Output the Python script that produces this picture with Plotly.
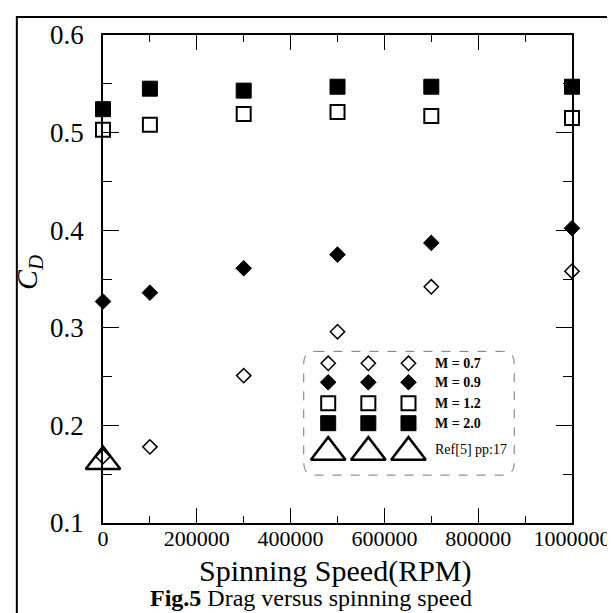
import plotly.graph_objects as go

# ---- data ----
rpm = [0, 100000, 300000, 500000, 700000, 1000000]
cd_m07 = [0.168, 0.178, 0.251, 0.296, 0.342, 0.358]
cd_m09 = [0.327, 0.336, 0.361, 0.375, 0.387, 0.402]
cd_m12 = [0.503, 0.508, 0.519, 0.521, 0.517, 0.515]
cd_m20 = [0.524, 0.545, 0.543, 0.547, 0.547, 0.547]
ref_rpm = [0]
ref_cd = [0.163]

x_tickvals = [0, 200000, 400000, 600000, 800000, 1000000]
x_ticktext = ["0", "200000", "400000", "600000", "800000", "1000000"]
y_tickvals = [0.1, 0.2, 0.3, 0.4, 0.5, 0.6]
y_ticktext = ["0.1", "0.2", "0.3", "0.4", "0.5", "0.6"]

legend_labels = ["<b>M = 0.7</b>", "<b>M = 0.9</b>", "<b>M = 1.2</b>", "<b>M = 2.0</b>", "Ref[5] pp:17"]

FONT = "Liberation Serif"
W, H = 615, 613
L, R, T, B = 95, 41, 26, 98

styles = [
    dict(symbol="diamond-open", size=11, color="black", line=dict(width=1.5, color="black")),
    dict(symbol="diamond", size=12, color="black", line=dict(width=1, color="black")),
    dict(symbol="square-open", size=14, color="black", line=dict(width=2, color="black")),
    dict(symbol="square", size=15, color="black", line=dict(width=1, color="black")),
    dict(symbol="triangle-up-open", size=30, color="black", line=dict(width=2.5, color="black")),
]


def px(xp):
    return (xp - L) / (W - L - R)


def py(yp):
    return (H - B - yp) / (H - T - B)


fig = go.Figure()
series = [(rpm, cd_m07), (rpm, cd_m09), (rpm, cd_m12), (rpm, cd_m20), (ref_rpm, ref_cd)]
for (xs, ys), st, name in zip(series, styles, legend_labels):
    fig.add_trace(go.Scatter(x=xs, y=ys, mode="markers", marker=st, name=name,
                             showlegend=False, cliponaxis=False))

# ---- custom legend (three symbols per row), drawn in pixel space on overlay axes ----
leg_cols = [325, 366, 407]
leg_rows = [355, 374, 395, 415, 444]
leg_text_x = 432
for i, st in enumerate(styles):
    fig.add_trace(go.Scatter(x=leg_cols, y=[leg_rows[i]] * 3, mode="markers", marker=st,
                             xaxis="x2", yaxis="y2", showlegend=False, cliponaxis=False,
                             hoverinfo="skip"))
    fig.add_annotation(x=px(leg_text_x), y=py(leg_rows[i] - (3 if i == 4 else 0)),
                       xref="paper", yref="paper",
                       text=legend_labels[i], showarrow=False, xanchor="left", yanchor="middle",
                       font=dict(family=FONT, size=14, color="black"))

# rounded dashed legend box
bx0, bx1, by0, by1, rr = 300, 515, 343, 467, 12
box_path = (f"M {bx0+rr},{by0} L {bx1-rr},{by0} Q {bx1},{by0} {bx1},{by0+rr} "
            f"L {bx1},{by1-rr} Q {bx1},{by1} {bx1-rr},{by1} L {bx0+rr},{by1} "
            f"Q {bx0},{by1} {bx0},{by1-rr} L {bx0},{by0+rr} Q {bx0},{by0} {bx0+rr},{by0} Z")
fig.add_shape(type="path", path=box_path, xref="x2", yref="y2",
              line=dict(color="#777777", width=1, dash="dash"), layer="below")

# outer frame (left, top, right edges)
frame_path = (f"M {px(7)},{py(640)} L {px(7)},{py(8)} L {px(612)},{py(8)} L {px(612)},{py(640)}")
fig.add_shape(type="path", path=frame_path, xref="paper", yref="paper",
              line=dict(color="black", width=2))

# axis titles and caption
fig.add_annotation(x=px(332), y=py(563), xref="paper", yref="paper", text="Spinning Speed(RPM)",
                   xanchor="center", yanchor="middle",
                   showarrow=False, font=dict(family=FONT, size=30, color="black"))
fig.add_annotation(x=px(307), y=py(590), xref="paper", yref="paper",
                   text="<b>Fig.5</b> Drag versus spinning speed",
                   xanchor="center", yanchor="middle",
                   showarrow=False, font=dict(family=FONT, size=24, color="black"))
fig.add_annotation(x=px(19), y=py(264), xref="paper", yref="paper",
                   text="<i>C</i><sub><i>D</i></sub>", xanchor="center", yanchor="middle",
                   textangle=-90, showarrow=False, font=dict(family=FONT, size=30, color="black"))

axis_common = dict(showgrid=False, zeroline=False, showline=True, linecolor="black",
                   linewidth=1.5, mirror="allticks", ticks="inside", tickcolor="black",
                   tickwidth=1.2)

fig.update_layout(
    width=W, height=H,
    margin=dict(l=L, r=R, t=T, b=B, pad=0),
    paper_bgcolor="white", plot_bgcolor="white",
    font=dict(family=FONT, color="black"),
    showlegend=False,
    xaxis=dict(range=[0, 1000000], tickvals=x_tickvals, ticktext=x_ticktext, ticklen=15,
               tickfont=dict(family=FONT, size=22, color="black"), ticklabelstandoff=-5,
               minor=dict(dtick=100000, tick0=0, ticks="inside", ticklen=7, tickcolor="black",
                          tickwidth=1),
               **axis_common),
    yaxis=dict(range=[0.1, 0.6], tickvals=y_tickvals, ticktext=y_ticktext, ticklen=16,
               tickfont=dict(family=FONT, size=27, color="black"), ticklabelstandoff=12,
               minor=dict(dtick=0.05, tick0=0.1, ticks="inside", ticklen=9, tickcolor="black",
                          tickwidth=1),
               **axis_common),
    xaxis2=dict(overlaying="x", range=[L, W - R], visible=False, fixedrange=True),
    yaxis2=dict(overlaying="y", range=[H - B, T], visible=False, fixedrange=True),
)

fig.write_html("out.html")
